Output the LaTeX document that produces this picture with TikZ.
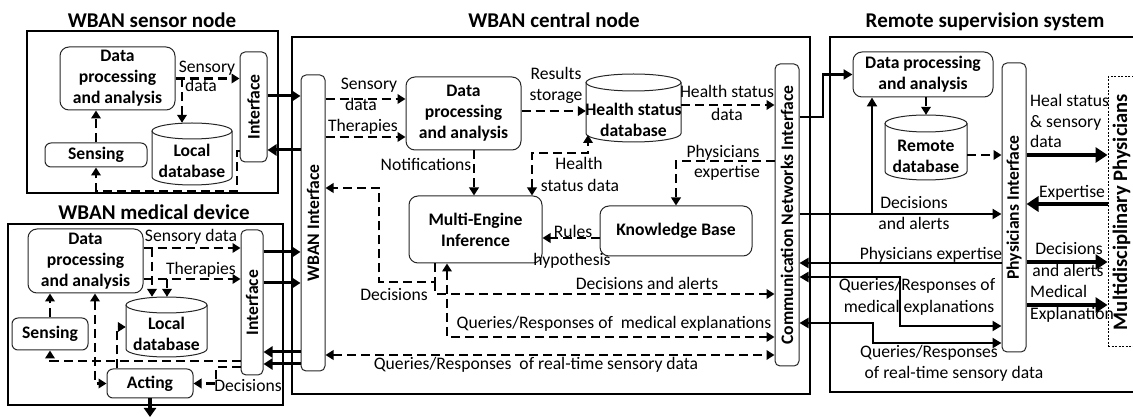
\documentclass[tikz,border=0pt]{standalone}
\usepackage{fontspec}
\setmainfont{Carlito}
\usepackage{graphicx}
\usetikzlibrary{arrows.meta,calc}
\newcommand\drawcyl[5]{%
  \pgfmathsetmacro\cylcx{(#1+#3)/2}%
  \pgfmathsetmacro\cylrx{(#3-#1)/2}%
  \pgfmathsetmacro\cylty{#2+#5}%
  \pgfmathsetmacro\cylby{#4-#5}%
  \draw[cylst] (\cylcx,\cylty) ellipse [x radius=\cylrx, y radius=#5];
  \draw[cylst] (#1,\cylty) -- (#1,\cylby) arc[start angle=180, end angle=0, x radius=\cylrx, y radius=#5] -- (#3,\cylty);
}
\tikzset{
  every node/.style={font=\fontsize{17.6}{21}\selectfont, inner sep=0pt},
  obox/.style={draw, line width=2pt},
  rbox/.style={draw=black!85, line width=1pt, rounded corners=9pt, align=center, font=\fontsize{17.6}{21}\selectfont\bfseries},
  ifbox/.style={draw=black!85, line width=1pt, rounded corners=5pt, font=\fontsize{17.6}{21}\selectfont\bfseries},
  cylbox/.style={draw=none},
  cylst/.style={draw=black!85, line width=1pt},
  bt/.style={align=center, font=\fontsize{17.6}{21}\selectfont\bfseries},
  lab/.style={text height=12pt, text depth=4pt},
  ttl/.style={font=\fontsize{21}{25}\selectfont\bfseries, anchor=base},
  mpst/.style={draw, line width=1pt, dash pattern=on 2pt off 1.5pt},
  mptx/.style={font=\fontsize{20.6}{24}\selectfont\bfseries},
  dsh/.style={line width=2.9pt, dash pattern=on 9pt off 5pt, -{Triangle[length=8pt,width=9.5pt]}},
  dshb/.style={line width=2.9pt, dash pattern=on 9pt off 5pt, arrows={Triangle[length=8pt,width=9.5pt]-Triangle[length=8pt,width=9.5pt]}},
  sol/.style={line width=3pt, -{Triangle[length=9pt,width=11pt]}},
  msol/.style={line width=2.5pt, -{Triangle[length=9pt,width=10pt]}},
  msolb/.style={line width=2.5pt, arrows={Triangle[length=9pt,width=10pt]-Triangle[length=9pt,width=10pt]}},
  big/.style={line width=4.5pt, -{Triangle[length=12pt,width=15pt]}},
  down/.style={line width=4pt, -{Triangle[length=9pt,width=12pt]}},
}
\begin{document}
\begin{tikzpicture}[x=1pt,y=-1pt]
\useasboundingbox (0,0) rectangle (1133,419);

% titles
\node[ttl] (t1) at (152,28) {WBAN sensor node};
\node[ttl] (t2) at (154,220) {WBAN medical device};
\node[ttl] (t3) at (554,28) {WBAN central node};
\node[ttl] (t4) at (985,28) {Remote supervision system};

% outer boxes
\node[obox, minimum width=251, minimum height=162] (snb) at (152.5,112) {};
\node[obox, minimum width=275, minimum height=181] (mdb) at (145.5,314.5) {};
\node[obox, minimum width=518, minimum height=357] (cnb) at (551,215.5) {};
\node[obox, minimum width=320, minimum height=355] (rsb) at (990,214.5) {};

% ---------- sensor node
\node[rbox, minimum width=115, minimum height=63] (sdp) at (117.5,78.5) {Data\\processing\\and analysis};
\node[rbox, rounded corners=6pt, minimum width=102, minimum height=24] (ssen) at (96,155) {Sensing};
\node[cylbox, minimum width=80, minimum height=62] (sldb) at (192,154) {};
\drawcyl{152}{123}{232}{185}{8}
\node[bt] (sldbt) at (192,161) {Local\\database};
\node[ifbox, minimum width=27, minimum height=110] (sif) at (253.5,107) {\rotatebox{90}{Interface}};

% ---------- medical device
\node[rbox, minimum width=115, minimum height=64] (mdp) at (85.5,261) {Data\\processing\\and analysis};
\node[rbox, rounded corners=6pt, minimum width=76, minimum height=32] (msen) at (50,334) {Sensing};
\node[cylbox, minimum width=81, minimum height=60] (mldb) at (166.5,327) {};
\drawcyl{126}{297}{207}{357}{8}
\node[bt] (mldbt) at (166.5,334) {Local\\database};
\node[ifbox, minimum width=22, minimum height=145] (mif) at (252,302.5) {\rotatebox{90}{Interface}};
\node[rbox, rounded corners=6pt, minimum width=86, minimum height=29] (mact) at (150,383.5) {Acting};

% ---------- central node
\node[ifbox, minimum width=24, minimum height=296] (wif) at (313,223) {\rotatebox{90}{WBAN Interface}};
\node[rbox, minimum width=115, minimum height=73] (cdp) at (463.5,113.5) {Data\\processing\\and analysis};
\node[cylbox, minimum width=95, minimum height=68] (hsdb) at (633.5,108) {};
\drawcyl{586}{74}{681}{142}{8.5}
\node[bt] (hsdbt) at (633.5,120) {Health status\\database};
\node[rbox, minimum width=133, minimum height=67] (mei) at (475.5,229.5) {Multi-Engine\\Inference};
\node[rbox, minimum width=152, minimum height=50] (kb) at (676,231) {Knowledge Base};
\node[ifbox, minimum width=24, minimum height=302] (comm) at (787,215) {\rotatebox{90}{Communication Networks Interface}};

% ---------- remote
\node[rbox, minimum width=140, minimum height=45] (rdp) at (923,74.5) {Data processing\\and analysis};
\node[cylbox, minimum width=82, minimum height=65] (rdb) at (926,147.5) {};
\drawcyl{885}{115}{967}{180}{8.5}
\node[bt] (rdbt) at (926,156) {Remote\\database};
\node[ifbox, minimum width=24, minimum height=289] (pif) at (1014,207.5) {\rotatebox{90}{Physicians Interface}};
\node[mpst, minimum width=44, minimum height=270] (mpb) at (1130,212) {};
\node[mptx] (mpbt) at (1121.5,212) {\rotatebox{90}{Multidisciplinary Physicians}};

% ---------- sensor connectors
\coordinate (sb1) at (182,78.5);
\draw[dsh] (sdp.east) -- (sdp.east -| sif.west);
\draw[dsh] (sb1) -- (sb1 |- sldb.north);
\draw[dsh] (ssen.north) -- (ssen.north |- sdp.south);
\draw[dsh] (sif.west |- 0,151) -| (237,191) -| (ssen.south);
\draw[sol] (sif.east |- 0,96) -- (wif.west |- 0,96);
\draw[sol] (wif.west |- 0,150) -- (sif.east |- 0,150);

% ---------- medical connectors
\coordinate (mb1) at (152,248);
\coordinate (mb2) at (167,279);
\draw[dsh] (mdp.east |- 0,248) -- (mif.west |- 0,248);
\draw[dsh] (mb1) -- (mb1 |- mldb.north);
\draw[dsh] (mdp.east |- 0,279) -- (mif.west |- 0,279);
\draw[dsh] (mb2) -- (mb2 |- mldb.north);
\draw[dsh] (msen.north) -- (msen.north |- mdp.south);
\draw[dshb] (mdp.south -| 95,0) |- (mact.west);
\draw[dsh] (mact.north -| 117,0) |- (mldb.west);
\draw[dsh] (mif.west |- 0,361) -| (msen.south);
\draw[dsh] (mif.west |- 0,367) -| (216,383.5) -- (mact.east);
\draw[sol] (mif.east |- 0,252) -- (wif.west |- 0,252);
\draw[sol] (mif.east |- 0,283) -- (wif.west |- 0,283);
\draw[sol] (wif.west |- 0,352) -- (mif.east |- 0,352);
\draw[sol] (wif.west |- 0,364) -- (mif.east |- 0,364);
\coordinate (actout) at (150,417);
\draw[down] (mact.south) -- (actout);

% ---------- central connectors
\draw[dsh] (wif.east |- 0,99) -- (cdp.west |- 0,99);
\draw[dsh] (wif.east |- 0,137) -- (cdp.west |- 0,137);
\draw[dsh] (cdp.east |- 0,111) -- (hsdb.west |- 0,111);
\draw[dsh] (hsdb.east |- 0,105) -- (comm.west |- 0,105);
\draw[dsh] (comm.west |- 0,161) -| (kb.north);
\draw[dsh] (cdp.south -| 474,0) -- (mei.north -| 474,0);
\coordinate (hsb) at (588,135);
\draw[dshb] (mei.north -| 532,0) -- (532,153) -| (hsb);
\draw[dsh] (kb.west |- 0,238) -- (mei.east |- 0,238);
\coordinate (dsp) at (435,282);
\draw[dsh] (mei.south -| 435,0) -- (dsp) -| (379,188) -- (wif.east |- 0,188);
\draw[dsh] (dsp) |- (comm.west |- 0,294);
\draw[dshb] (mei.south -| 447,0) |- (comm.west |- 0,337);
\draw[dshb] (wif.east |- 0,355) -- (comm.west |- 0,355);

% ---------- remote connectors
\draw[msol] (comm.east |- 0,117) -- (823,117) |- (rdp.west);
\draw[dsh] (rdp.south -| 926,0) -- (rdb.north);
\draw[dsh] (rdb.east |- 0,155) -- (pif.west |- 0,155);
\coordinate (rb1) at (872,214);
\draw[msol] (comm.east |- 0,214) -- (pif.west |- 0,214);
\draw[msol] (rb1) -- (rb1 |- rdp.south);
\draw[msol] (pif.west |- 0,263) -- (comm.east |- 0,263);
\draw[msolb] (pif.west |- 0,326) -| (900,277) -- (comm.east |- 0,277);
\draw[msolb] (pif.west |- 0,343) -| (873,323) -- (comm.east |- 0,323);
\draw[big] (pif.east |- 0,155) -- (mpb.west |- 0,155);
\draw[big] (mpb.west |- 0,204) -- (pif.east |- 0,204);
\draw[big] (pif.east |- 0,262) -- (mpb.west |- 0,262);
\draw[big] (pif.east |- 0,305) -- (mpb.west |- 0,305);

% ---------- labels
\node[lab] (s1) at (207,69) {Sensory};
\node[lab] (s2) at (201,88) {data};
\node[lab] (m1) at (191,238) {Sensory data};
\node[lab] (m2) at (201,271) {Therapies};
\node[lab] (m3) at (248,388) {Decisions};
\node[lab] (c1) at (369,86) {Sensory};
\node[lab] (c2) at (361,107) {data};
\node[lab] (c3) at (363,128) {Therapies};
\node[lab] (c4) at (556,76) {Results};
\node[lab] (c5) at (556,97) {storage};
\node[lab] (c6) at (727,94) {Health status};
\node[lab] (c7) at (727,117) {data};
\node[lab] (c8) at (723,154) {Physicians};
\node[lab] (c9) at (727,174) {expertise};
\node[lab] (c10) at (426,167) {Notifications};
\node[lab] (c11) at (579,166) {Health};
\node[lab] (c12) at (580,188) {status data};
\node[lab] (c13) at (573,234) {Rules};
\node[lab] (c14) at (572,262) {hypothesis};
\node[lab] (c15) at (394,297) {Decisions};
\node[lab] (c16) at (647,286) {Decisions and alerts};
\node[lab] (c17) at (614,325) {Queries/Responses of~ medical explanations};
\node[lab] (c18) at (536,366) {Queries/Responses~ of real-time sensory data};
\node[lab] (r1) at (914,205) {Decisions};
\node[lab] (r2) at (914,226) {and alerts};
\node[lab] (r3) at (931,256) {Physicians expertise};
\node[lab] (r4) at (917,287) {Queries/Responses of};
\node[lab] (r5) at (919,309) {medical explanations};
\node[lab] (r6) at (929,354) {Queries/Responses};
\node[lab] (r7) at (954,375) {of real-time sensory data};
\node[lab, anchor=west] (r8) at (1030,103) {Heal status};
\node[lab, anchor=west] (r9) at (1030,124) {\& sensory};
\node[lab, anchor=west] (r10) at (1030,144) {data};
\node[lab] (r11) at (1072,194) {Expertise};
\node[lab] (r12) at (1069,251) {Decisions};
\node[lab] (r13) at (1068,273) {and alerts};
\node[lab, anchor=west] (r14) at (1030,294) {Medical};
\node[lab, anchor=west] (r15) at (1030,316) {Explanation};
\end{tikzpicture}
\end{document}
